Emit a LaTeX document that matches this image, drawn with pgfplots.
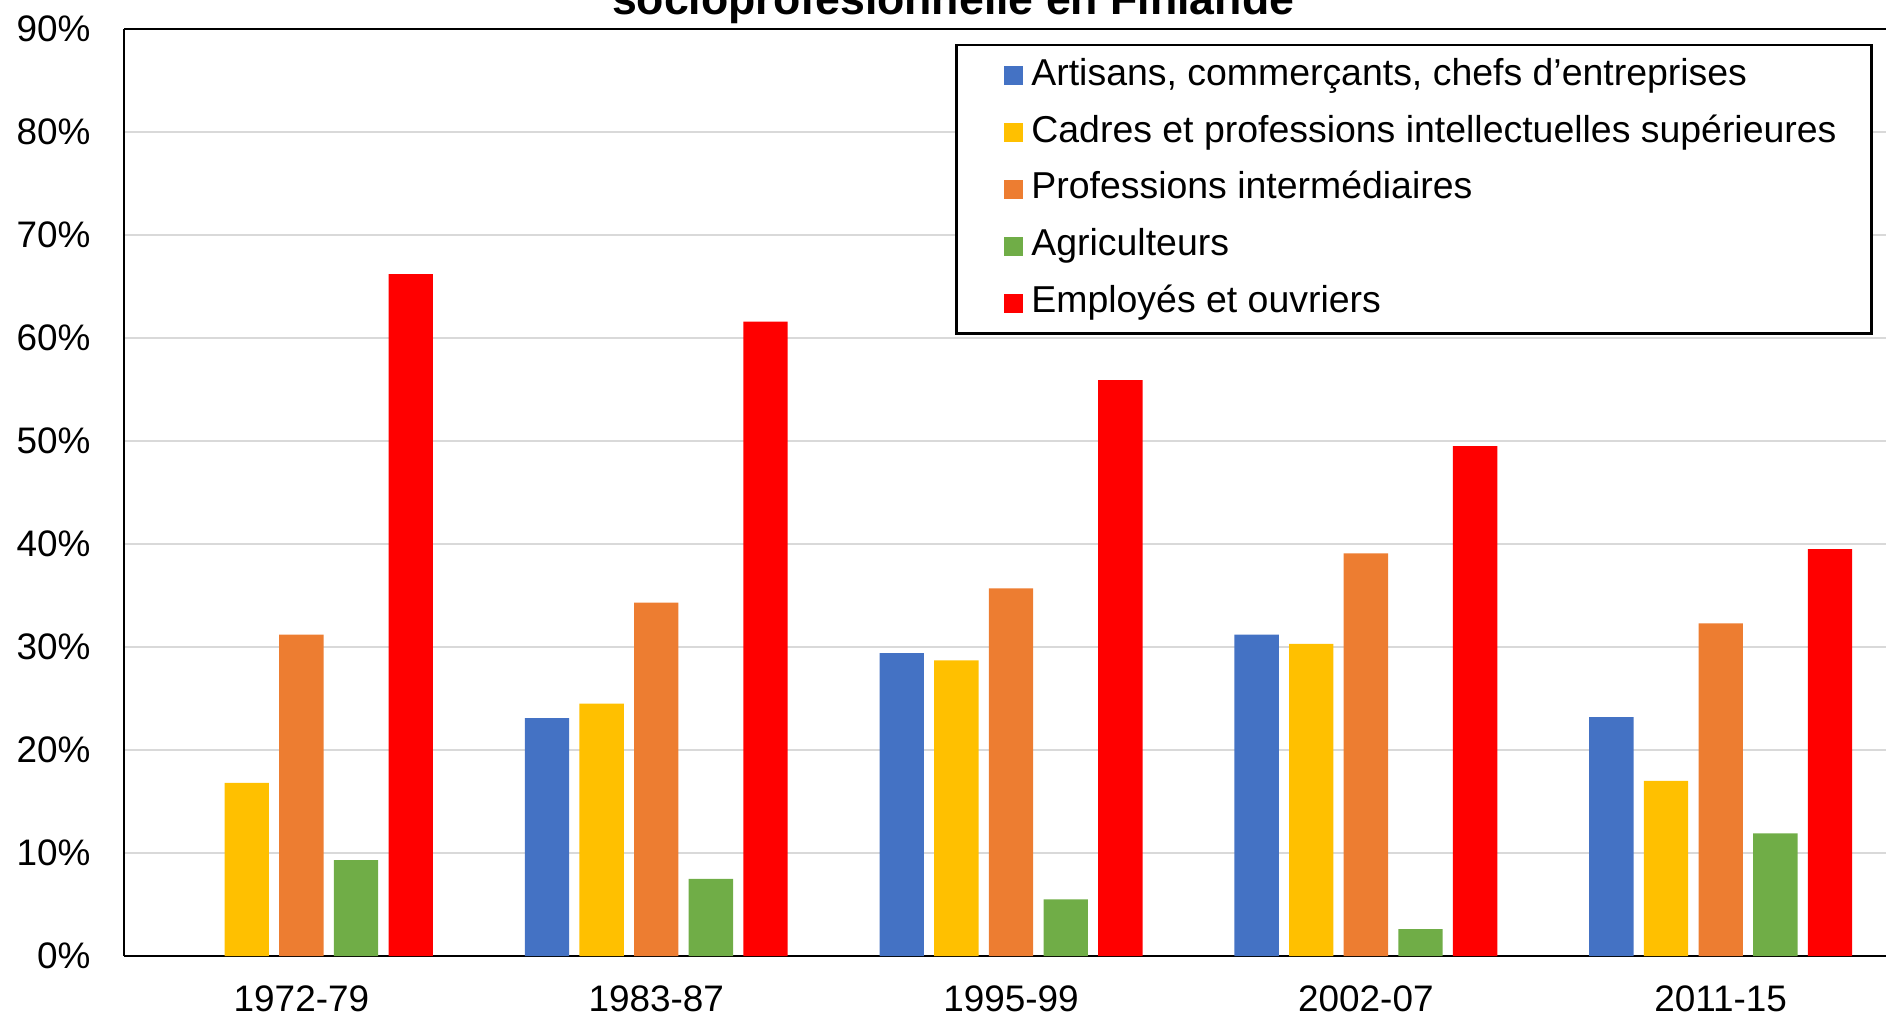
\documentclass[border=0pt]{standalone}
\usepackage{fontspec}
\setmainfont{Liberation Sans}
\usepackage{pgfplots}
\pgfplotsset{compat=1.18}

\definecolor{cBlue}{HTML}{4472C4}
\definecolor{cYellow}{HTML}{FFC000}
\definecolor{cOrange}{HTML}{ED7D31}
\definecolor{cGreen}{HTML}{70AD47}
\definecolor{cRed}{HTML}{FF0000}
\definecolor{cGrid}{HTML}{D9D9D9}

\begin{document}
\begin{tikzpicture}
% page = 1886 x 1015 px at 0.01cm per px
\useasboundingbox (0,0) rectangle (18.86cm,10.15cm);
\begin{axis}[
  at={(1.24cm,0.59cm)}, anchor=south west,
  width=17.62cm, height=9.27cm, scale only axis,
  xmin=-0.5, xmax=4.466, ymin=0, ymax=90,
  axis x line=box, axis y line=left,
  x axis line style={-}, y axis line style={-},
  axis line style={black, line width=0.8pt},
  xtick={0,1,2,3,4},
  xticklabels={1972-79,1983-87,1995-99,2002-07,2011-15},
  ytick={0,10,...,90},
  yticklabels={0\%,10\%,20\%,30\%,40\%,50\%,60\%,70\%,80\%,90\%},
  major tick length=0pt,
  tick label style={font=\fontsize{10.5}{12}\selectfont},
  xticklabel style={yshift=-5pt},
  yticklabel style={xshift=-6pt},
  ymajorgrids, grid style={cGrid, line width=0.6pt},
  bar width=0.125,
  title={socioprofesionnelle en Finlande},
  every axis title shift=0pt,
  title style={at={(axis description cs:0.4705,1.0155)}, anchor=base,
    font=\fontsize{12.7}{14}\selectfont\bfseries, inner sep=0pt},
  legend style={at={(0.9926,0.9843)}, anchor=north east, draw=black,
    line width=0.8pt, font=\fontsize{10.65}{12}\selectfont,
    inner xsep=0.35cm, inner ysep=0.12cm, column sep=0.08cm, row sep=5.7pt,
    nodes={inner sep=0pt, text height=0.8em, text depth=0.25em}},
  legend cell align=left,
  legend image code/.code={\path (0cm,0cm); \fill[#1] (0.13cm,-0.095cm) rectangle (0.32cm,0.095cm);},
]
\addplot[ybar, bar shift=-0.308, fill=cBlue, draw=none] coordinates {
  (1,23.1)(2,29.4)(3,31.2)(4,23.2)};
\addplot[ybar, bar shift=-0.154, fill=cYellow, draw=none] coordinates {
  (0,16.8)(1,24.5)(2,28.7)(3,30.3)(4,17.0)};
\addplot[ybar, bar shift=0, fill=cOrange, draw=none] coordinates {
  (0,31.2)(1,34.3)(2,35.7)(3,39.1)(4,32.3)};
\addplot[ybar, bar shift=0.154, fill=cGreen, draw=none] coordinates {
  (0,9.3)(1,7.5)(2,5.5)(3,2.6)(4,11.9)};
\addplot[ybar, bar shift=0.308, fill=cRed, draw=none] coordinates {
  (0,66.2)(1,61.6)(2,55.9)(3,49.5)(4,39.5)};
\legend{Artisans{,} commerçants{,} chefs d'entreprises,
  Cadres et professions intellectuelles supérieures,
  Professions intermédiaires, Agriculteurs, Employés et ouvriers}
\end{axis}
\end{tikzpicture}
\end{document}
